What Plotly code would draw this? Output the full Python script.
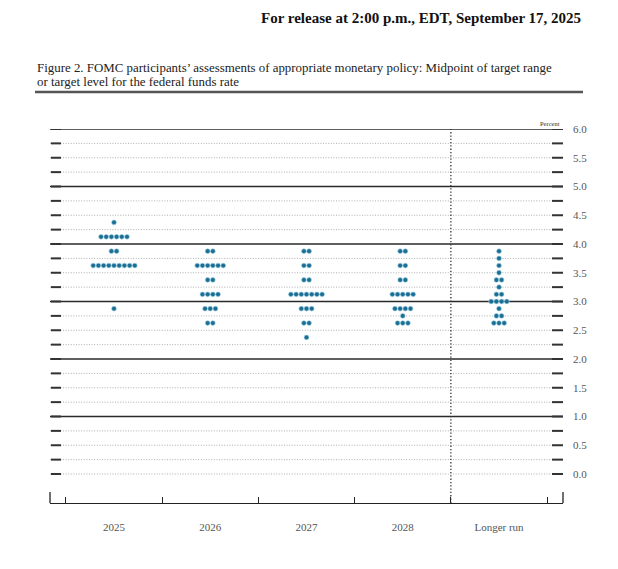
import plotly.graph_objects as go

categories = ["2025", "2026", "2027", "2028", "Longer run"]

rates_2025 = [4.375, 4.125, 3.875, 3.625, 2.875]
counts_2025 = [1, 6, 2, 9, 1]
rates_2026 = [3.875, 3.625, 3.375, 3.125, 2.875, 2.625]
counts_2026 = [2, 6, 2, 4, 3, 2]
rates_2027 = [3.875, 3.625, 3.375, 3.125, 2.875, 2.625, 2.375]
counts_2027 = [2, 2, 2, 7, 3, 2, 1]
rates_2028 = [3.875, 3.625, 3.375, 3.125, 2.875, 2.75, 2.625]
counts_2028 = [2, 2, 2, 5, 4, 1, 3]
rates_lr = [3.875, 3.75, 3.625, 3.5, 3.375, 3.25, 3.125, 3.0, 2.875, 2.75, 2.625]
counts_lr = [1, 1, 1, 1, 2, 1, 2, 4, 1, 2, 3]

y_labels = ["0.0", "0.5", "1.0", "1.5", "2.0", "2.5", "3.0", "3.5", "4.0", "4.5", "5.0", "5.5", "6.0"]
y_label_vals = [0.0, 0.5, 1.0, 1.5, 2.0, 2.5, 3.0, 3.5, 4.0, 4.5, 5.0, 5.5, 6.0]
grid_vals = [i * 0.25 for i in range(25)]

header = "For release at 2:00 p.m., EDT, September 17, 2025"
caption1 = "Figure 2. FOMC participants\u2019 assessments of appropriate monetary policy: Midpoint of target range"
caption2 = "or target level for the federal funds rate"

series = [
    (rates_2025, counts_2025),
    (rates_2026, counts_2026),
    (rates_2027, counts_2027),
    (rates_2028, counts_2028),
    (rates_lr, counts_lr),
]

SERIF = "Liberation Serif"
DOT = "#1c6f94"
OFF = 8  # browser body margin
W, H = 618 - OFF, 569 - OFF
L, R, T, B = 50 - OFF, 563 - OFF, 129 - OFF, 503 - OFF
pw, ph = R - L, B - T
step = 0.054

def px_x(px):
    return (px - OFF - L) / pw

def px_y(py):
    return (B - (py - OFF)) / ph

fig = go.Figure()

xs, ys = [], []
for ci, (rates, counts) in enumerate(series):
    for r, n in zip(rates, counts):
        for k in range(n):
            xs.append(ci + (k - (n - 1) / 2) * step)
            ys.append(r)

fig.add_trace(go.Scatter(
    x=xs, y=ys, mode="markers",
    marker=dict(size=4.8, color=DOT, line=dict(color="#9fd0e3", width=0.6)),
    hoverinfo="skip", showlegend=False,
))

shapes = []
for g in grid_vals:
    solid = abs(g - round(g)) < 1e-9 and round(g) > 0
    shapes.append(dict(type="line", xref="paper", yref="y", x0=0, x1=1, y0=g, y1=g,
                       line=dict(color="#2a2a2a", width=1.3) if solid else
                       dict(color="#9a9a9a", width=0.8, dash="1px,1.6px"), layer="below"))
    shapes.append(dict(type="line", xref="paper", yref="y", x0=px_x(51), x1=px_x(61), y0=g, y1=g,
                       line=dict(color="#333", width=2)))
    shapes.append(dict(type="line", xref="paper", yref="y", x0=px_x(552), x1=1, y0=g, y1=g,
                       line=dict(color="#333", width=2)))

# divider between years and longer run
shapes.append(dict(type="line", xref="x", yref="paper", x0=3.5, x1=3.5, y0=0, y1=1,
                   line=dict(color="#333", width=1.3, dash="1.3px,2px")))
# end ticks of bottom axis
for xe in (0, 1):
    shapes.append(dict(type="line", xref="paper", yref="paper", x0=xe, x1=xe, y0=0, y1=px_y(492),
                       line=dict(color="#222", width=1.3)))
# rule under caption
shapes.append(dict(type="line", xref="paper", yref="paper", x0=px_x(35), x1=px_x(583),
                   y0=px_y(92), y1=px_y(92), line=dict(color="#555", width=2.4)))

annotations = [
    dict(text="<b>" + header + "</b>", xref="paper", yref="paper", x=px_x(583), y=px_y(18),
         xanchor="right", yanchor="middle", showarrow=False,
         font=dict(family=SERIF, size=15, color="#111")),
    dict(text=caption1, xref="paper", yref="paper", x=px_x(35), y=px_y(68),
         xanchor="left", yanchor="middle", showarrow=False,
         font=dict(family=SERIF, size=12.9, color="#222")),
    dict(text=caption2, xref="paper", yref="paper", x=px_x(35), y=px_y(82),
         xanchor="left", yanchor="middle", showarrow=False,
         font=dict(family=SERIF, size=12.9, color="#222")),
    dict(text="Percent", xref="paper", yref="y", x=px_x(562), y=6, yshift=6,
         xanchor="right", yanchor="middle", showarrow=False,
         font=dict(family=SERIF, size=6.5, color="#333")),
]

fig.update_layout(
    width=W, height=H,
    margin=dict(l=L, r=W - R, t=T, b=H - B, pad=0),
    paper_bgcolor="white", plot_bgcolor="white",
    shapes=shapes, annotations=annotations,
    xaxis=dict(range=[-0.665, 4.665], showgrid=False, zeroline=False,
               showline=True, linecolor="#222", linewidth=1.3,
               tickvals=list(range(len(categories))), ticktext=categories,
               ticks="", ticklabelstandoff=14,
               tickfont=dict(family=SERIF, size=11, color="#555"),
               minor=dict(tickvals=[-0.5, 0.5, 1.5, 2.5, 3.5, 4.5], ticks="inside",
                          ticklen=6, tickwidth=1.2, tickcolor="#222", showgrid=False),
               fixedrange=True),
    yaxis=dict(range=[(474 - 503) / 57.5, 6], side="right", showgrid=False, zeroline=False,
               showline=False, tickvals=y_label_vals, ticktext=y_labels, ticks="",
               ticklabelstandoff=9,
               tickfont=dict(family=SERIF, size=11, color="#555"), fixedrange=True),
)

fig.write_html("out.html")
